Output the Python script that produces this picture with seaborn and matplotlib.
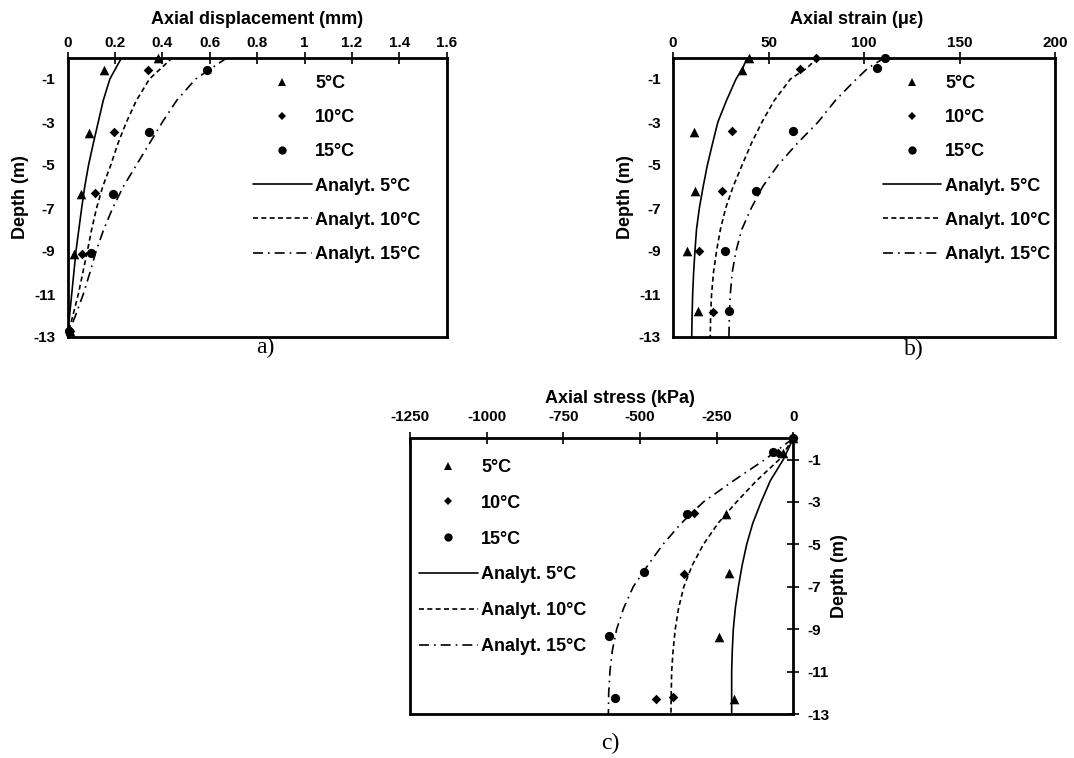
import numpy as np
import pandas as pd
import matplotlib
matplotlib.use("Agg")
import matplotlib.pyplot as plt
from matplotlib.lines import Line2D
import seaborn as sns

# ---------------- data ----------------
series = ["5°C", "10°C", "15°C"]
analyt = ["Analyt. 5°C", "Analyt. 10°C", "Analyt. 15°C"]

# Panel a: axial displacement (mm)
a_meas_depth = {
    "5°C": [0, -0.6, -3.5, -6.35, -9.15, -12.7],
    "10°C": [-0.6, -3.45, -6.3, -9.15, -12.7],
    "15°C": [-0.6, -3.45, -6.35, -9.1, -12.7],
}
a_meas_val = {
    "5°C": [0.38, 0.154, 0.09, 0.056, 0.027, 0.01],
    "10°C": [0.34, 0.196, 0.115, 0.059, 0.01],
    "15°C": [0.59, 0.345, 0.19, 0.097, 0.007],
}
a_line_depth = [0, -1, -2, -3, -4, -5, -6, -7, -8, -9, -10, -11, -12, -12.7]
a_line_val = {
    "Analyt. 5°C": [0.228, 0.178, 0.15, 0.129, 0.108, 0.088, 0.072, 0.059, 0.047, 0.035, 0.026, 0.017, 0.008, 0.002],
    "Analyt. 10°C": [0.443, 0.345, 0.29, 0.248, 0.212, 0.182, 0.148, 0.122, 0.101, 0.083, 0.064, 0.045, 0.022, 0.005],
    "Analyt. 15°C": [0.674, 0.54, 0.46, 0.40, 0.345, 0.29, 0.235, 0.19, 0.152, 0.12, 0.094, 0.066, 0.033, 0.008],
}

# Panel b: axial strain (microstrain)
b_meas_depth = {
    "5°C": [0, -0.6, -3.45, -6.2, -9.0, -11.8],
    "10°C": [0, -0.55, -3.4, -6.2, -9.0, -11.85],
    "15°C": [0, -0.5, -3.4, -6.2, -9.0, -11.8],
}
b_meas_val = {
    "5°C": [40, 36.2, 11.2, 11.7, 7.4, 13.1],
    "10°C": [75, 66.4, 31, 25.9, 13.4, 20.7],
    "15°C": [111, 107, 62.8, 43.4, 27, 29.3],
}
b_line_depth = [0, -0.5, -1, -2, -3, -4, -5, -6, -7, -8, -9, -10, -11, -12, -13]
b_line_val = {
    "Analyt. 5°C": [38.8, 36.5, 33, 28, 23.5, 20.7, 18, 15.8, 13.8, 12.3, 11.5, 10.8, 10.3, 10, 9.8],
    "Analyt. 10°C": [75.9, 70, 61.5, 53, 46.6, 41, 36.2, 31.5, 27.6, 24.8, 22.8, 21.2, 20.2, 19.7, 19.5],
    "Analyt. 15°C": [111, 102, 96, 85, 76, 65, 55, 47, 41, 36, 33, 31, 30, 29.5, 29.3],
}

# Panel c: axial stress (kPa)
c_meas_depth = {
    "5°C": [0, -0.7, -3.57, -6.37, -9.37, -12.3],
    "10°C": [0, -0.68, -3.54, -6.42, -12.2, -12.3],
    "15°C": [0, -0.66, -3.57, -6.3, -9.3, -12.23],
}
c_meas_val = {
    "5°C": [0, -34.8, -219.6, -208.7, -241, -193.5],
    "10°C": [0, -49, -322.8, -356.5, -391, -448],
    "15°C": [0, -67.4, -347.8, -487, -600, -581.5],
}
c_line_depth = [0, -1, -2, -3, -4, -5, -6, -7, -8, -9, -10, -11, -12, -13]
c_line_val = {
    "Analyt. 5°C": [0, -32.6, -75, -105, -132, -152, -167, -179, -189, -195.6, -199, -201, -201, -201],
    "Analyt. 10°C": [0, -45.6, -120, -185, -245, -293, -330, -357, -374, -385, -392, -396.7, -398, -399],
    "Analyt. 15°C": [0, -92.4, -195, -293, -365, -425, -475, -522, -553, -576, -590, -598, -602, -603],
}

a_xticks = [0, 0.2, 0.4, 0.6, 0.8, 1.0, 1.2, 1.4, 1.6]
b_xticks = [0, 50, 100, 150, 200]
c_xticks = [-1250, -1000, -750, -500, -250, 0]
depth_ticks = [-1, -3, -5, -7, -9, -11, -13]

# ---------------- style ----------------
sns.set_theme(style="white")
plt.rcParams["font.family"] = ["Liberation Sans", "DejaVu Sans"]
plt.rcParams["font.weight"] = "bold"
for k in ["text.color", "axes.labelcolor", "xtick.color", "ytick.color", "axes.edgecolor"]:
    plt.rcParams[k] = "black"

markers = {"5°C": "^", "10°C": "D", "15°C": "o"}
msizes = {"5°C": 48, "10°C": 24, "15°C": 44}
lstyles = {
    "Analyt. 5°C": "-",
    "Analyt. 10°C": (0, (3, 2)),
    "Analyt. 15°C": (0, (6, 3, 1, 3)),
}
LW = 1.2
TICK_FS = 11
LABEL_FS = 13
LEG_FS = 13


def to_long(depths, vals, key):
    rows = []
    for s in vals:
        for d, v in zip(depths[s], vals[s]):
            rows.append({key: s, "depth": d, "value": v})
    return pd.DataFrame(rows)


def draw_panel(ax, mdepth, mval, ldepth, lval, xlim, xticks, xlabel, right=False,
               leg_anchor=(0.5, 0.95), leg_spacing=1.0, title_x=0.5, title_y=1.11,
               xpad=1.5):
    dm = to_long(mdepth, mval, "series")
    dl = to_long({k: ldepth for k in lval}, lval, "line")
    for s in series:
        sub = dm[dm["series"] == s]
        sns.scatterplot(data=sub, x="value", y="depth", marker=markers[s], s=msizes[s],
                        color="black", edgecolor="black", linewidth=0, ax=ax,
                        legend=False, zorder=3, clip_on=False)
    for l in analyt:
        sub = dl[dl["line"] == l]
        sns.lineplot(data=sub, x="value", y="depth", sort=False, estimator=None,
                     color="black", linewidth=LW, linestyle=lstyles[l], ax=ax,
                     legend=False)
    ax.set_xlim(*xlim)
    ax.set_ylim(-13, 0)
    ax.set_xticks(xticks)
    ax.set_xticklabels([f"{v:g}" for v in xticks], fontsize=TICK_FS, fontweight="bold")
    ax.set_yticks(depth_ticks)
    ax.set_yticklabels([f"{v:g}" for v in depth_ticks], fontsize=TICK_FS, fontweight="bold")
    ax.xaxis.tick_top()
    ax.xaxis.set_label_position("top")
    ax.set_xlabel(xlabel, fontsize=LABEL_FS, fontweight="bold")
    ax.xaxis.set_label_coords(title_x, title_y)
    ax.xaxis.label.set_va("bottom")
    ax.tick_params(axis="both", direction="inout", length=8, width=1.2, color="black",
                   colors="black")
    ax.tick_params(axis="x", pad=xpad)
    if right:
        ax.yaxis.tick_right()
        ax.yaxis.set_label_position("right")
        ax.set_ylabel("Depth (m)", fontsize=LABEL_FS, fontweight="bold", labelpad=1, rotation=90)
        ax.tick_params(axis="y", pad=6)
    else:
        ax.set_ylabel("Depth (m)", fontsize=LABEL_FS, fontweight="bold", labelpad=3)
        ax.tick_params(axis="y", pad=5)
    for sp in ax.spines.values():
        sp.set_linewidth(2.0)
        sp.set_color("black")
    ax.set_facecolor("white")

    handles = []
    for s in series:
        handles.append(Line2D([], [], linestyle="none", marker=markers[s], color="black",
                              markersize=np.sqrt(msizes[s]) * 0.9, markeredgewidth=0))
    for l in analyt:
        handles.append(Line2D([], [], color="black", linewidth=LW, linestyle=lstyles[l]))
    ax.legend(handles, series + analyt, loc="upper left", bbox_to_anchor=leg_anchor,
              frameon=False, handlelength=3.25, handletextpad=0.2,
              labelspacing=leg_spacing, borderpad=0, borderaxespad=0,
              prop={"weight": "bold", "size": LEG_FS})
    return ax


fig = plt.figure(figsize=(10.74, 7.58), dpi=100)
fig.patch.set_facecolor("white")

W, H = 1074.0, 758.0
def rect(l, r, t, b):
    return [l / W, 1 - b / H, (r - l) / W, (b - t) / H]

ax_a = fig.add_axes(rect(67.7, 446.7, 57.5, 337))
ax_b = fig.add_axes(rect(673, 1055, 57.5, 337))
ax_c = fig.add_axes(rect(410, 793.3, 438.3, 714))

draw_panel(ax_a, a_meas_depth, a_meas_val, a_line_depth, a_line_val, (0, 1.6), a_xticks,
           "Axial displacement (mm)", leg_anchor=(0.489, 0.937), leg_spacing=0.95,
           title_y=1.105, xpad=1.5)
draw_panel(ax_b, b_meas_depth, b_meas_val, b_line_depth, b_line_val, (0, 200), b_xticks,
           "Axial strain (με)", leg_anchor=(0.549, 0.937), leg_spacing=0.95, title_x=0.48,
           title_y=1.105, xpad=1.5)
draw_panel(ax_c, c_meas_depth, c_meas_val, c_line_depth, c_line_val, (-1250, 0), c_xticks,
           "Axial stress (kPa)", right=True, leg_anchor=(0.0235, 0.925), leg_spacing=1.04,
           title_x=0.548, title_y=1.115, xpad=6.5)

serif = ["Liberation Serif", "DejaVu Serif"]
fig.text(265 / W, 1 - 347 / H, "a)", family=serif, fontsize=17, ha="center", va="center",
         fontweight="normal")
fig.text(914 / W, 1 - 349 / H, "b)", family=serif, fontsize=17, ha="center", va="center",
         fontweight="normal")
fig.text(610 / W, 1 - 743 / H, "c)", family=serif, fontsize=17, ha="center", va="center",
         fontweight="normal")

fig.savefig("out.png", dpi=100, facecolor="white")
